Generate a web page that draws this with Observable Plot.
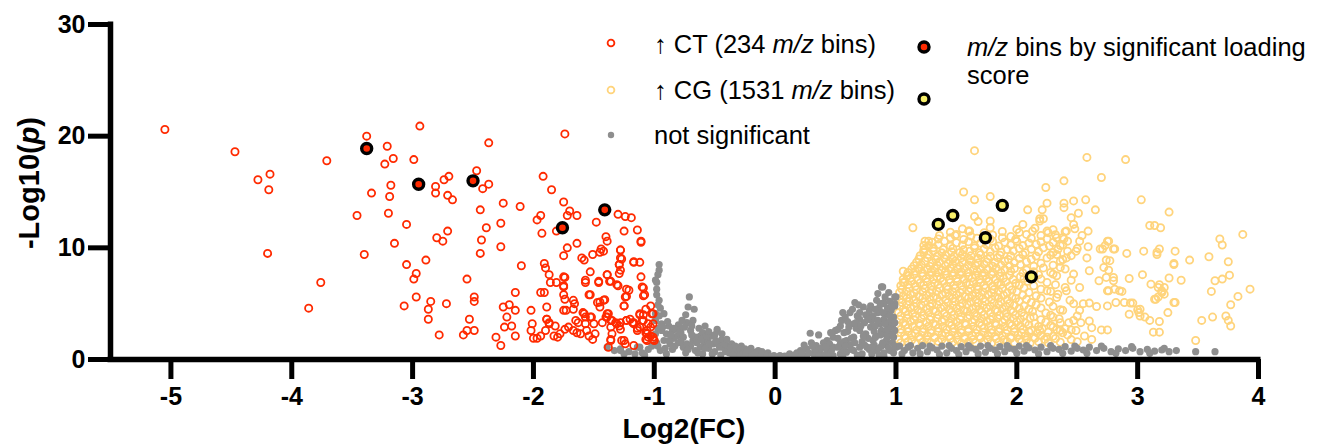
<!DOCTYPE html>
<html>
<head>
<meta charset="utf-8">
<script src="https://cdn.jsdelivr.net/npm/d3@7"></script>
<script src="https://cdn.jsdelivr.net/npm/@observablehq/plot@0.6"></script>
<style>
  html, body { margin: 0; padding: 0; background: #fff; }
  #wrap { position: relative; width: 1318px; height: 444px; font-family: "Liberation Sans", Arial, sans-serif; }
  #legend { position: absolute; left: 0; top: 0; width: 1318px; height: 160px; pointer-events: none; font-size: 25.5px; color: #000; line-height: 28px; }
  #legend .item { position: absolute; white-space: nowrap; }
  #legend svg { position: absolute; overflow: visible; }
</style>
</head>
<body>
<div id="wrap">
  <div id="chart"></div>
  <div id="legend"></div>
</div>
<script>
// ---------------- DATA ----------------
const xTicks = [-5, -4, -3, -2, -1, 0, 1, 2, 3, 4];
const yTicks = [0, 10, 20, 30];
const xDomain = [-5.5, 4];
const yDomain = [0, 30];

const legendLabels = {
  ct: ["↑ CT (234 ", "m/z", " bins)"],
  cg: ["↑ CG (1531 ", "m/z", " bins)"],
  ns: "not significant",
  hl: ["m/z", " bins by significant loading", "score"]
};

// ↑ CT (log2FC, -log10 p)
const ctPoints = [
[-5.05,20.6],[-4.47,18.6],[-4.28,16.1],[-4.18,16.6],[-4.19,15.2],[-4.2,9.5],[-3.76,6.9],[-3.86,4.6],[-3.71,17.8],
[-3.38,20.0],[-3.21,19.1],[-3.23,17.5],[-3.16,18.0],[-2.99,17.9],[-2.94,20.9],[-3.18,15.6],[-3.34,14.9],[-3.19,14.6],
[-3.46,12.9],[-3.2,13.1],[-3.05,12.1],[-3.4,9.4],[-3.15,10.4],[-3.05,8.5],[-2.97,7.7],[-2.99,7.2],[-2.97,5.6],[-3.07,4.8],
[-2.37,19.4],[-1.74,20.2],[-2.81,15.5],[-2.81,14.9],[-2.74,16.1],[-2.7,16.4],[-2.71,14.7],[-2.67,14.3],[-2.47,16.9],
[-2.42,15.3],[-2.37,15.7],[-2.44,13.4],[-2.39,11.8],[-2.27,12.2],[-2.25,14.0],[-2.11,13.7],[-2.43,10.7],[-2.44,9.5],
[-2.27,10.1],[-2.8,10.9],[-2.75,10.6],[-2.71,11.5],[-2.89,8.9],[-2.85,5.2],[-2.87,4.5],[-2.87,3.6],[-2.72,5.0],[-2.78,2.2],
[-2.55,7.2],[-2.49,5.6],[-2.49,5.2],[-2.53,3.6],[-2.58,2.2],[-2.55,2.6],[-2.49,2.6],[-2.1,8.4],[-2.15,6.0],[-1.94,6.0],
[-1.91,6.0],[-1.91,8.6],[-1.9,8.2],[-1.87,7.6],[-1.86,6.9],[-1.81,6.9],[-1.74,7.35],[-1.75,6.6],[-1.93,11.3],[-1.94,12.9],
[-1.97,12.5],[-1.92,16.4],[-1.85,15.2],[-1.75,14.1],[-1.7,13.3],[-1.72,12.9],[-1.64,12.9],[-1.81,11.5],[-1.72,10.0],
[-1.64,10.4],[-1.75,9.3],[-1.6,9.1],[-1.58,8.9],[-1.51,9.4],[-1.44,9.9],[-1.45,9.6],[-1.4,11.0],[-1.39,10.6],[-1.48,12.3],
[-1.54,5.8],[-1.45,5.15],[-1.41,5.35],[-1.3,13.0],[-1.24,12.8],[-1.19,12.7],[-1.25,11.5],[-1.14,11.6],[-1.11,10.6],
[-1.17,8.7],[-1.12,8.7],[-1.11,7.4],[-1.09,6.4],[-1.08,5.8],[-1.07,4.5],[-1.12,4.0],
[-1.53,7.85],[-1.57,7.1],[-1.46,7.0],[-1.39,7.6],[-1.37,7.0],[-1.31,6.7],[-1.29,7.7],[-1.28,8.0],[-1.29,8.5],[-1.28,9.1],
[-1.28,9.8],[-1.75,7.4],[-1.75,5.8],[-1.74,5.4],[-1.75,4.4],[-1.89,3.6],[-1.87,3.2],[-1.67,5.3],[-1.67,4.5],[-1.59,4.2],
[-1.57,3.8],[-1.52,3.8],[-1.65,3.5],[-1.45,4.7],[-1.38,4.1],[-1.36,3.5],[-1.28,3.3],[-1.23,3.5],[-1.17,3.2],[-1.12,2.9],
[-1.05,3.2],[-1.06,2.3],[-1.01,1.8],
[-1.75,6.5],[-1.57,6.9],[-1.46,6.9],[-1.36,7.0],[-1.3,6.6],[-1.23,6.3],[-1.23,5.65],[-1.09,5.7],[-1.53,5.8],[-1.47,5.1],
[-1.25,4.8],[-1.66,5.0],[-1.73,4.4],[-1.89,4.7],[-2.02,4.4],[-2.25,4.7],[-2.2,4.9],[-2.15,4.4],[-2.22,3.8],[-2.24,2.9],
[-2.18,3.0],[-2.15,2.1],[-2.31,2.0],[-2.27,1.25],[-2.01,3.2],[-2.02,2.6],[-2.0,1.9],[-1.97,1.9],[-1.94,2.1],[-1.9,2.6],
[-1.89,3.6],[-1.87,3.3],[-1.82,3.0],[-1.8,2.0],[-1.83,2.1],[-1.78,2.3],[-1.74,2.7],[-1.71,2.9],[-1.67,2.6],[-1.63,3.3],
[-1.64,2.4],[-1.61,2.3],[-1.58,4.1],[-1.57,3.2],[-1.56,2.6],[-1.54,2.1],[-1.51,1.8],[-1.49,2.3],[-1.5,3.2],[-1.53,3.8],
[-1.43,3.3],[-1.4,3.8],[-1.39,4.1],[-1.36,2.9],[-1.35,2.3],[-1.36,1.7],[-1.32,3.3],[-1.29,3.0],[-1.27,1.7],[-1.24,1.4],
[-1.23,3.5],[-1.2,3.6],[-1.17,3.3],[-1.14,2.6],[-1.12,4.1],[-1.09,3.5],[-1.07,2.4],[-1.05,2.0],[-1.03,2.9],[-1.02,4.1],
[-1.01,3.2],[-1.0,1.7],[-1.06,1.7],
[-1.28,9.8],[-1.11,10.5],[-1.42,9.7],[-1.29,8.5],[-1.27,9.0],[-1.17,8.75],[-1.39,7.6],[-1.1,6.5],[-1.21,6.2],[-1.24,5.6],
[-1.42,5.3],[-1.25,4.8],[-1.03,4.8],[-1.01,4.1],[-1.09,4.0],[-1.1,3.5],[-1.39,3.8],[-1.35,3.5],[-1.31,3.2],[-1.18,3.3],
[-1.14,2.8],[-1.28,2.7],[-1.06,2.6],[-1.03,2.1],[-1.01,2.0],[-1.07,1.8],[-1.17,1.25],[-1.25,1.7],[-1.36,1.8],[-1.38,1.1]
];

// highlighted CT bins (significant loading score)
const ctHighlight = [[-3.38,18.9],[-2.95,15.7],[-2.5,16.0],[-1.76,11.8],[-1.41,13.4]];

// ↑ CG
const cgPoints = [
// dense cloud
[1.04,1.5],[1.1,1.6],[1.16,1.45],[1.22,1.55],[1.29,1.5],[1.35,1.62],[1.41,1.48],[1.47,1.56],[1.54,1.45],[1.6,1.6],[1.66,1.5],[1.73,1.58],[1.79,1.46],[1.85,1.55],[1.92,1.62],[1.98,1.5],[2.04,1.57],[2.11,1.47],[2.18,1.6],[2.26,1.5],[2.36,1.55],[2.5,1.6],
[1.02,1.8],[1.08,1.9],[1.13,1.75],[1.2,1.85],[1.26,1.78],[1.32,1.92],[1.38,1.8],[1.45,1.88],[1.51,1.74],[1.57,1.86],[1.64,1.8],[1.7,1.92],[1.76,1.78],[1.83,1.86],[1.89,1.75],[1.95,1.9],[2.02,1.82],[2.08,1.76],[2.15,1.9],[2.23,1.8],[2.32,1.88],[2.45,1.78],
[1.07,2.1],[1.13,2.2],[1.19,2.05],[1.26,2.15],[1.32,2.0],[1.38,2.2],[1.44,2.1],[1.51,2.18],[1.57,2.02],[1.63,2.15],[1.69,2.08],[1.76,2.2],[1.82,2.05],[1.88,2.14],[1.95,2.02],[2.01,2.2],[2.07,2.1],[2.14,2.0],[2.2,2.15],[2.3,2.08],[2.42,2.2],[2.56,2.1],
[1.04,2.4],[1.1,2.5],[1.16,2.35],[1.22,2.46],[1.29,2.38],[1.35,2.5],[1.41,2.36],[1.47,2.46],[1.54,2.4],[1.6,2.52],[1.66,2.36],[1.72,2.45],[1.79,2.38],[1.85,2.5],[1.91,2.36],[1.98,2.46],[2.04,2.4],[2.1,2.5],[2.17,2.38],[2.26,2.45],[2.38,2.4],
[1.04,2.7],[1.1,2.8],[1.17,2.65],[1.23,2.75],[1.29,2.62],[1.35,2.8],[1.42,2.7],[1.48,2.78],[1.54,2.64],[1.6,2.74],[1.67,2.68],[1.73,2.8],[1.79,2.66],[1.86,2.75],[1.92,2.63],[1.98,2.78],[2.05,2.7],[2.12,2.62],[2.21,2.75],[2.33,2.68],[2.62,2.85],
[1.02,3.0],[1.08,3.1],[1.14,2.95],[1.2,3.05],[1.27,2.98],[1.33,3.1],[1.39,2.96],[1.46,3.06],[1.52,3.0],[1.58,3.12],[1.64,2.96],[1.71,3.05],[1.77,2.98],[1.83,3.1],[1.9,2.96],[1.96,3.06],[2.03,3.0],[2.1,3.1],[2.18,2.96],[2.28,3.05],
[1.06,3.3],[1.12,3.4],[1.19,3.25],[1.25,3.35],[1.31,3.22],[1.38,3.4],[1.44,3.3],[1.5,3.38],[1.57,3.24],[1.63,3.34],[1.69,3.28],[1.75,3.4],[1.82,3.26],[1.88,3.35],[1.94,3.22],[2.0,3.38],[2.07,3.3],[2.15,3.22],[2.24,3.36],[2.43,3.3],[2.6,3.45],
[1.03,3.6],[1.09,3.7],[1.15,3.55],[1.21,3.66],[1.28,3.58],[1.34,3.7],[1.4,3.56],[1.46,3.66],[1.53,3.6],[1.59,3.72],[1.65,3.56],[1.71,3.65],[1.78,3.58],[1.84,3.7],[1.9,3.56],[1.97,3.66],[2.03,3.6],[2.11,3.7],[2.2,3.56],[2.35,3.65],
[1.04,3.9],[1.1,4.0],[1.16,3.85],[1.23,3.95],[1.29,3.82],[1.35,4.0],[1.42,3.9],[1.48,3.98],[1.54,3.84],[1.61,3.94],[1.67,3.88],[1.73,4.0],[1.8,3.86],[1.86,3.95],[1.92,3.82],[1.99,3.98],[2.06,3.9],[2.14,3.82],[2.28,3.96],[2.5,3.9],
[1.02,4.2],[1.08,4.3],[1.14,4.15],[1.21,4.26],[1.27,4.18],[1.33,4.3],[1.4,4.16],[1.46,4.26],[1.52,4.2],[1.59,4.32],[1.65,4.16],[1.71,4.25],[1.78,4.18],[1.84,4.3],[1.91,4.16],[1.97,4.26],[2.04,4.2],[2.13,4.3],[2.24,4.16],
[1.06,4.5],[1.12,4.6],[1.18,4.45],[1.25,4.55],[1.31,4.42],[1.37,4.6],[1.44,4.5],[1.5,4.58],[1.56,4.44],[1.63,4.54],[1.69,4.48],[1.75,4.6],[1.82,4.46],[1.88,4.55],[1.95,4.42],[2.02,4.58],[2.1,4.5],[2.2,4.62],[2.36,4.45],
[1.03,4.8],[1.09,4.9],[1.15,4.75],[1.21,4.86],[1.28,4.78],[1.34,4.9],[1.4,4.76],[1.47,4.86],[1.53,4.8],[1.59,4.92],[1.66,4.76],[1.72,4.85],[1.78,4.78],[1.85,4.9],[1.91,4.76],[1.98,4.86],[2.06,4.8],[2.16,4.9],[2.3,4.76],
[1.05,5.1],[1.11,5.2],[1.17,5.05],[1.24,5.15],[1.3,5.02],[1.36,5.2],[1.43,5.1],[1.49,5.18],[1.55,5.04],[1.62,5.14],[1.68,5.08],[1.74,5.2],[1.81,5.06],[1.87,5.15],[1.94,5.02],[2.02,5.2],[2.12,5.1],[2.27,5.15],[2.44,5.3],
[1.03,5.4],[1.09,5.5],[1.15,5.35],[1.22,5.46],[1.28,5.38],[1.34,5.5],[1.41,5.36],[1.47,5.46],[1.53,5.4],[1.6,5.52],[1.66,5.36],[1.72,5.45],[1.79,5.38],[1.85,5.5],[1.92,5.36],[1.99,5.46],[2.08,5.4],[2.2,5.5],
[1.06,5.7],[1.12,5.8],[1.19,5.65],[1.25,5.75],[1.31,5.62],[1.38,5.8],[1.44,5.7],[1.5,5.78],[1.57,5.64],[1.63,5.74],[1.69,5.68],[1.76,5.8],[1.82,5.66],[1.89,5.75],[1.96,5.62],[2.05,5.78],[2.16,5.7],[2.34,5.85],
[1.03,6.0],[1.09,6.1],[1.15,5.95],[1.22,6.06],[1.28,5.98],[1.34,6.1],[1.41,5.96],[1.47,6.06],[1.53,6.0],[1.6,6.12],[1.66,5.96],[1.72,6.05],[1.79,5.98],[1.85,6.1],[1.92,5.96],[2.0,6.06],[2.1,6.0],[2.28,6.1],
[1.05,6.3],[1.11,6.4],[1.17,6.25],[1.24,6.35],[1.3,6.22],[1.36,6.4],[1.43,6.3],[1.49,6.38],[1.55,6.24],[1.62,6.34],[1.68,6.28],[1.74,6.4],[1.81,6.26],[1.88,6.35],[1.96,6.22],[2.06,6.4],[2.2,6.3],[2.4,6.45],
[1.04,6.6],[1.1,6.7],[1.16,6.55],[1.23,6.66],[1.29,6.58],[1.35,6.7],[1.42,6.56],[1.48,6.66],[1.54,6.6],[1.61,6.72],[1.67,6.56],[1.73,6.65],[1.8,6.58],[1.87,6.7],[1.94,6.56],[2.02,6.66],[2.14,6.6],[2.32,6.7],
[1.07,6.9],[1.13,7.0],[1.2,6.85],[1.26,6.95],[1.32,6.82],[1.39,7.0],[1.45,6.9],[1.51,6.98],[1.58,6.84],[1.64,6.94],[1.7,6.88],[1.77,7.0],[1.84,6.86],[1.91,6.95],[1.99,6.82],[2.09,7.0],[2.25,6.9],[2.45,7.1],
[1.06,7.2],[1.12,7.3],[1.18,7.15],[1.25,7.26],[1.31,7.18],[1.37,7.3],[1.44,7.16],[1.5,7.26],[1.56,7.2],[1.63,7.32],[1.69,7.16],[1.75,7.25],[1.82,7.18],[1.89,7.3],[1.97,7.16],[2.06,7.26],[2.2,7.2],
[1.09,7.5],[1.15,7.6],[1.22,7.45],[1.28,7.55],[1.34,7.42],[1.41,7.6],[1.47,7.5],[1.53,7.58],[1.6,7.44],[1.66,7.54],[1.72,7.48],[1.79,7.6],[1.86,7.46],[1.94,7.55],[2.03,7.42],[2.18,7.6],[2.33,7.5],
[1.1,7.8],[1.16,7.9],[1.22,7.75],[1.29,7.86],[1.35,7.78],[1.41,7.9],[1.48,7.76],[1.54,7.86],[1.6,7.8],[1.67,7.92],[1.73,7.76],[1.8,7.85],[1.87,7.78],[1.95,7.9],[2.05,7.76],[2.14,7.86],[2.28,7.8],
[1.13,8.1],[1.19,8.2],[1.26,8.05],[1.32,8.15],[1.38,8.02],[1.45,8.2],[1.51,8.1],[1.57,8.18],[1.64,8.04],[1.7,8.14],[1.76,8.08],[1.83,8.2],[1.9,8.06],[1.98,8.15],[2.08,8.02],[2.22,8.2],[2.4,8.1],
[1.15,8.4],[1.21,8.5],[1.28,8.35],[1.34,8.46],[1.41,8.38],[1.47,8.5],[1.53,8.36],[1.6,8.46],[1.66,8.4],[1.73,8.52],[1.8,8.36],[1.87,8.45],[1.94,8.38],[2.03,8.5],[2.14,8.36],[2.3,8.45],
[1.17,8.7],[1.24,8.8],[1.3,8.65],[1.36,8.75],[1.43,8.62],[1.49,8.8],[1.55,8.7],[1.62,8.78],[1.68,8.64],[1.75,8.74],[1.82,8.68],[1.9,8.8],[1.98,8.66],[2.08,8.75],[2.2,8.62],[2.36,8.8],
[1.19,9.0],[1.26,9.1],[1.33,8.95],[1.4,9.06],[1.47,8.98],[1.54,9.1],[1.61,8.96],[1.68,9.06],[1.76,9.0],[1.84,9.12],[1.93,8.96],[2.02,9.05],[2.12,8.98],[2.25,9.1],[2.38,8.96],
[1.2,9.3],[1.27,9.4],[1.34,9.25],[1.41,9.35],[1.48,9.22],[1.55,9.4],[1.62,9.3],[1.7,9.38],[1.78,9.24],[1.86,9.34],[1.95,9.28],[2.05,9.4],[2.16,9.26],[2.28,9.35],[2.45,9.3],
[1.23,9.6],[1.31,9.7],[1.38,9.55],[1.46,9.66],[1.53,9.58],[1.61,9.7],[1.69,9.56],[1.78,9.66],[1.87,9.6],[1.97,9.72],[2.07,9.56],[2.18,9.65],[2.3,9.58],[2.42,9.7],
[1.24,9.9],[1.31,10.0],[1.39,9.85],[1.47,9.95],[1.56,9.82],[1.65,10.0],[1.73,9.9],[1.82,9.98],[1.92,9.84],[2.02,9.94],[2.12,9.88],[2.22,10.0],[2.34,9.86],[2.5,9.95],
[1.27,10.2],[1.35,10.3],[1.45,10.15],[1.55,10.26],[1.65,10.18],[1.75,10.3],[1.85,10.16],[1.95,10.26],[2.05,10.2],[2.16,10.32],[2.27,10.16],[2.38,10.25],
[1.3,10.5],[1.4,10.6],[1.5,10.45],[1.6,10.55],[1.7,10.42],[1.8,10.6],[1.9,10.5],[2.0,10.58],[2.1,10.44],[2.2,10.54],[2.3,10.48],[2.42,10.6],
[1.35,10.8],[1.45,10.9],[1.56,10.75],[1.67,10.86],[1.78,10.78],[1.88,10.9],[1.99,10.76],[2.12,10.86],[2.25,10.8],[2.38,10.92],
[1.36,11.1],[1.5,11.2],[1.62,11.05],[1.8,11.15],[1.95,11.02],[2.08,11.2],[2.2,11.1],[2.32,11.18],
[1.45,11.4],[1.6,11.5],[1.73,11.35],[1.88,11.46],[2.02,11.38],[2.13,11.5],[2.26,11.36],[2.4,11.45],
[1.55,11.7],[1.78,11.8],[2.0,11.65],[2.15,11.75],[2.3,11.62],
// upper scattered
[1.65,18.7],[2.58,18.1],[2.9,17.9],[2.7,16.3],[2.39,16.0],[2.24,15.4],[1.56,15.0],[1.78,14.6],[1.65,14.3],[2.25,14.0],
[2.39,14.0],[2.39,13.6],[2.47,14.2],[2.57,14.3],[2.65,13.4],[2.09,13.4],[2.21,13.4],[2.19,12.6],[2.51,13.1],[2.45,12.7],
[3.03,14.3],[3.26,13.2],[1.14,11.8],[1.65,12.8],[1.68,12.35],[1.78,12.4],[1.23,10.2],[1.24,10.6],[1.23,9.8],[1.06,7.9],
[1.1,7.5],[1.19,8.15],[1.06,6.9],[1.27,10.6],[1.49,11.1],[1.61,11.5],[2.05,12.1],[2.22,12.6],
// right side scattered
[3.1,12.0],[3.14,12.0],[3.19,11.8],[3.68,10.8],[3.7,10.25],[3.87,11.2],[3.75,8.75],[3.76,7.55],[3.7,7.2],[3.64,7.05],
[3.61,6.1],[3.77,4.9],[3.83,5.65],[3.93,6.3],[3.53,3.5],[3.62,3.8],[3.73,3.9],[3.75,3.5],[3.77,3.0],[3.48,1.7],[3.36,7.1],
[3.26,7.3],[3.3,8.6],[3.31,9.7],[3.43,8.9],[3.59,9.2],[3.18,9.9],[3.16,9.4],[3.05,9.7],[2.91,9.5],[3.04,7.6],[3.11,6.75],
[3.17,6.45],[3.2,6.15],[3.15,5.4],[3.22,5.85],[3.3,5.1],[3.25,4.2],[3.18,3.4],[3.13,2.45],[3.18,2.45],[3.0,4.45],[2.93,4.05],
[3.02,3.9],[3.1,3.5],[2.94,5.05],[2.89,5.1],[2.82,5.1],[2.75,4.8],[2.7,2.65],[2.75,2.65],[2.62,1.8],[2.66,4.75],[2.6,5.05],
[2.55,5.0],[2.52,4.4],[2.53,3.3],[2.49,2.6],[2.45,2.65],[2.4,2.75],[2.36,3.3],[2.3,2.9],[2.25,2.0],[2.19,2.6],[2.93,7.25],
[2.85,6.15],[2.8,7.05],[2.74,7.35],[2.75,6.15],[2.68,7.05],[2.6,7.95],[2.58,9.1],[2.73,10.2],[2.69,9.9],[2.75,10.6],[2.8,9.9],
[2.77,8.85],[2.72,8.25],[2.59,10.1],[2.54,11.1],[2.59,11.5],[2.48,11.7],[2.39,10.8],[2.36,10.2],[2.33,9.4],[3.3,8.5],[3.18,6.7],
[3.22,6.45],[3.2,6.0],[3.17,5.6],[3.14,5.4],[3.31,5.1],[3.06,3.8],[3.02,4.5],[3.01,4.2],[2.96,5.05],[2.87,6.1],[2.81,6.3],
[2.76,6.15],[2.8,7.35],[2.76,8.0],[2.74,8.9],[2.81,9.9],[2.76,10.6],[2.71,9.9],[3.16,9.6],
[2.19,12.4],[2.25,11.5],[2.33,10.9],[2.41,11.5],[2.47,12.1],[2.52,10.6],[2.49,9.7],[2.41,9.1],[2.36,8.25],[2.3,7.65],
[2.47,7.65],[2.52,6.45],[2.41,6.15],[2.33,5.55],[2.25,6.15],[2.47,5.0],[2.38,4.4],[2.3,3.8],[2.47,3.5],[2.36,2.6]
];

// highlighted CG bins (significant loading score)
const cgHighlight = [[1.35,12.1],[1.47,12.9],[1.88,13.8],[1.74,10.9],[2.12,7.4]];

// not significant
const nsPoints = [
[-0.96,8.5],[-0.98,6.9],[-0.98,5.8],[-0.97,4.9],[-0.99,4.1],[-0.92,4.1],[-0.94,3.2],[-0.96,8.0],[-0.97,7.6],[-0.99,7.1],
[-0.98,6.3],[-0.96,5.3],[-0.99,3.5],[-0.97,2.8],[-0.99,2.3],[-0.71,5.6],[-0.72,4.7],[-0.67,4.5],[-0.68,3.5],[-0.73,3.3],
[-0.48,2.7],[-0.48,2.5],[-0.9,2.3],[-0.81,2.1],[-0.76,2.0],[-0.68,1.7],[-0.59,1.5],[-0.51,1.4],[-0.43,1.1],[-0.34,0.95],
[-0.26,0.8],[-0.18,0.65],[-0.1,0.5],[-0.01,0.35],[0.04,0.35],[-0.85,2.6],[-0.79,2.6],[-0.62,2.1],[-0.56,1.7],[-0.47,1.4],
[-0.4,1.2],[-0.32,0.8],[-0.25,0.95],[-0.62,1.1],[-0.76,1.1],[-0.87,1.4],[-0.92,1.7],[-0.95,0.8],[-0.9,0.5],[-1.28,0.8],
[-1.12,1.1],[-1.39,1.1],[-1.28,0.95],[-1.14,1.1],[-1.21,0.7],[-1.05,0.9],[-1.1,0.6],
[-0.85,0.9],[-0.8,1.5],[-0.74,0.6],[-0.7,1.2],[-0.66,0.8],[-0.6,0.5],[-0.55,1.0],[-0.5,0.7],[-0.45,0.4],[-0.38,0.6],
[-0.3,0.4],[-0.22,0.3],[-0.15,0.2],[-0.08,0.15],[-0.04,0.1],[0.0,0.05],[-0.88,3.0],[-0.84,1.9],[-0.8,3.1],[-0.78,2.4],
[-0.7,2.6],[-0.66,2.0],[-0.6,2.4],[-0.53,2.1],[-0.44,1.8],[-0.36,1.4],[-0.28,1.2],[-0.2,1.0],[-0.14,0.8],[-0.06,0.6],
[-0.97,1.2],[-0.94,2.6],[-0.91,1.0],[-0.88,1.7],[-0.86,2.2],[-0.83,1.2],[-0.82,2.7],[-0.78,1.6],[-0.75,2.9],[-0.73,1.4],
[-0.72,0.9],[-0.69,2.2],[-0.65,1.5],[-0.64,0.6],[-0.61,1.8],[-0.58,1.0],[-0.57,2.1],[-0.54,1.4],[-0.52,0.5],[-0.49,1.7],
[-0.46,1.1],[-0.42,1.4],[-0.41,0.7],[-0.37,1.0],[-0.35,0.4],[-0.33,1.2],[-0.29,0.9],[-0.27,0.5],[-0.24,0.6],[-0.21,0.8],
[-0.19,0.4],[-0.16,0.55],[-0.12,0.3],[-0.11,0.7],[-0.07,0.35],[-0.03,0.25],[-0.96,3.9],[-0.95,4.6],[-0.93,2.9],[-0.89,3.4],
[-0.84,2.8],[-0.77,3.5],[-0.74,4.0],[-0.69,3.0],[-0.63,2.8],[-0.58,3.0],[-0.55,2.5],[-0.5,2.2],[-0.44,2.3],[-0.4,1.8],
[-0.98,1.5],[-1.02,1.2],[-1.08,0.4],[-1.16,0.5],[-1.25,0.5],[-1.33,0.8],
[0.29,2.35],[0.36,2.2],[0.21,0.8],[0.26,0.95],[0.34,1.25],[0.43,1.7],[0.48,2.0],[0.54,3.0],[0.56,4.2],[0.62,4.2],
[0.66,5.1],[0.73,4.7],[0.76,3.9],[0.84,5.3],[0.88,6.5],[0.85,5.9],[0.9,5.1],[0.92,4.1],[0.98,3.8],[0.99,4.8],[1.0,5.6],
[0.95,2.9],[0.87,3.2],[0.79,2.9],[0.7,2.6],[0.65,2.0],[0.59,1.7],[0.54,1.4],[0.48,1.1],[0.43,0.8],[0.37,0.65],[0.32,0.5],
[0.26,0.35],[0.21,0.35],[0.15,0.27],[0.1,0.2],[0.81,1.7],[0.92,1.7],[0.98,2.0],[0.9,2.3],[1.0,1.1],[0.95,0.8],[0.84,0.8],
[0.76,1.1],[0.7,1.1],[0.65,0.8],[0.59,0.65],[0.54,0.5],[0.48,0.35],[0.89,6.5],[0.99,5.6],[0.9,5.0],[0.99,5.0],[0.94,6.0],
[0.96,4.4],[0.6,2.5],[0.65,3.2],[0.7,3.6],[0.75,2.3],[0.8,3.5],[0.85,4.2],[0.9,3.6],[0.95,3.4],[0.97,3.0],[0.88,2.6],
[0.82,1.3],[0.72,1.6],[0.92,1.3],[0.99,2.6],[0.86,4.6],[0.78,4.4],[0.68,3.9],[0.63,1.9],[0.57,2.4],[0.52,1.9],[0.45,1.4],
[0.4,1.5],[0.38,1.0],[0.3,1.5],[0.24,1.3],[0.18,0.6],[0.05,0.15],[0.12,0.5],[0.7,4.2],[0.74,3.3],[0.82,2.5],[0.86,1.0],
[0.94,2.4],[0.97,1.5],[0.9,0.6],[0.8,0.5],[0.72,0.5],[0.62,1.3],[0.56,0.9],[0.46,0.6],[0.4,0.4],[0.33,0.9],[0.28,0.6],
[0.6,3.4],[0.67,2.8],[0.77,1.9],[0.83,3.0],[0.93,2.8],
[0.5,2.6],[0.55,3.5],[0.58,3.8],[0.61,2.9],[0.64,4.5],[0.67,3.3],[0.69,4.9],[0.71,3.0],[0.73,2.1],[0.75,4.0],[0.77,3.6],
[0.79,4.8],[0.81,3.9],[0.83,4.5],[0.83,2.0],[0.85,3.5],[0.87,5.0],[0.87,2.2],[0.89,4.2],[0.89,1.5],[0.91,3.2],[0.91,5.6],
[0.93,4.6],[0.93,2.0],[0.95,3.9],[0.95,5.2],[0.97,4.7],[0.97,2.2],[0.99,3.3],[0.99,1.2],[0.86,0.4],[0.78,0.9],[0.68,0.4],
[0.63,0.9],[0.57,1.6],[0.52,1.1],[0.47,0.9],[0.42,1.1],[0.36,0.35],[0.31,1.2],[0.22,0.55],[0.16,0.4],[0.08,0.3],[0.02,0.2],
[0.46,2.4],[0.52,2.7],[0.58,1.2],[0.66,1.5],[0.74,1.3],[0.8,1.1],[0.88,1.2],[0.94,1.0],[0.98,0.6],[0.9,0.3],[0.7,0.25],
[0.56,0.25],[0.44,0.3],
[1.03,1.2],[1.07,0.8],[1.1,1.1],[1.14,0.6],[1.18,1.0],[1.22,1.25],[1.26,0.7],[1.3,1.05],[1.34,0.85],[1.38,1.2],[1.42,0.6],
[1.46,1.0],[1.5,0.8],[1.54,1.15],[1.58,0.7],[1.62,1.05],[1.66,0.9],[1.7,1.2],[1.74,0.65],[1.78,1.0],[1.82,0.85],[1.86,1.15],
[1.9,0.7],[1.94,1.0],[1.98,0.9],[2.02,1.2],[2.06,0.75],[2.1,1.05],[2.15,0.85],[2.2,1.1],[2.25,0.7],[2.3,1.0],[2.35,0.9],
[2.4,1.15],[2.45,0.75],[2.5,1.0],[2.55,0.85],[2.6,1.1],[2.66,0.8],[2.72,1.0],[2.78,0.7],[2.84,0.95],[2.9,0.8],[2.96,1.0],
[3.02,0.7],[3.08,0.9],[3.14,0.75],[3.2,0.85],[3.26,0.7],[3.32,0.8],[3.48,0.7],[3.64,0.7],
[1.05,0.5],[1.12,1.25],[1.2,0.5],[1.28,1.2],[1.36,0.45],[1.44,1.25],[1.52,0.45],[1.6,1.25],[1.68,0.5],[1.76,1.25],[1.84,0.5],
[1.92,1.25],[2.0,0.55],[2.08,1.25],[2.18,0.5],[2.28,1.25],[2.38,0.55],[2.48,1.2],[2.58,0.55],[2.7,1.2],[2.82,0.55],[2.95,1.15],
[3.1,0.55],[3.22,1.0]
];

// ---------------- STYLE ----------------
const C = {
  ct: "#ff2a00",
  cg: "#ffd47c",
  ns: "#8e8e8e",
  cgFill: "#f8f06a",
  font: "'Liberation Sans', Arial, sans-serif"
};

const X = d => d[0], Y = d => d[1];

const chart = Plot.plot({
  width: 1318,
  height: 444,
  marginLeft: 110,
  marginRight: 60,
  marginTop: 24,
  marginBottom: 85,
  x: {domain: xDomain},
  y: {domain: yDomain},
  style: {fontFamily: C.font, color: "black", background: "white", overflow: "visible"},
  marks: [
    Plot.dot(cgPoints, {x: X, y: Y, r: 3.6, stroke: C.cg, strokeWidth: 1.8, fill: "none"}),
    Plot.dot(nsPoints, {x: X, y: Y, r: 3.6, fill: C.ns, stroke: "none"}),
    Plot.dot(ctPoints, {x: X, y: Y, r: 3.6, stroke: C.ct, strokeWidth: 1.8, fill: "none"}),
    Plot.dot(ctHighlight, {x: X, y: Y, r: 5, fill: C.ct, stroke: "black", strokeWidth: 3.4}),
    Plot.dot(cgHighlight, {x: X, y: Y, r: 5, fill: C.cgFill, stroke: "black", strokeWidth: 3.4}),
    Plot.ruleY([yDomain[0]], {stroke: "black", strokeWidth: 5.5, insetLeft: -2.5, insetRight: -2.5}),
    Plot.ruleX([xDomain[0]], {stroke: "black", strokeWidth: 5.5, insetTop: -2.5, insetBottom: -2.5}),
    Plot.axisX({ticks: xTicks, tickSize: 20, tickPadding: 8, strokeWidth: 5, fontSize: 25, fontWeight: "bold",
      fill: "black", tickFormat: d => String(d), label: null}),
    Plot.axisY({ticks: yTicks, tickSize: 22, tickPadding: 3, strokeWidth: 5, fontSize: 25, fontWeight: "bold",
      fill: "black", tickFormat: d => String(d), label: null})
  ]
});
document.getElementById("chart").appendChild(chart);

const svg = d3.select(chart);
// enforce the heavy axis styling
svg.selectAll("g[aria-label='rule']").attr("stroke-width", 5.5);
svg.selectAll("g[aria-label='x-axis tick'], g[aria-label='y-axis tick']").attr("stroke-width", 5);
svg.selectAll("g[aria-label='x-axis tick label'], g[aria-label='y-axis tick label']")
  .attr("font-size", 25).attr("font-weight", "bold").attr("fill", "black");

// axis titles
const yl = svg.append("text")
  .attr("transform", "translate(31,183) rotate(-90)")
  .attr("text-anchor", "middle").attr("dominant-baseline", "middle")
  .attr("font-size", 29).attr("font-weight", "bold").attr("fill", "black")
  .attr("font-family", C.font);
yl.append("tspan").text("-Log10(");
yl.append("tspan").attr("font-style", "italic").text("p");
yl.append("tspan").text(")");
svg.append("text")
  .attr("x", 684).attr("y", 438)
  .attr("text-anchor", "middle")
  .attr("font-size", 28).attr("font-weight", "bold").attr("fill", "black")
  .attr("font-family", C.font)
  .text("Log2(FC)");

// legend (overlaid inside the plot area)
const legend = d3.select("#legend");
function swatch(cx, cy, r, fill, stroke, sw) {
  const s = legend.append("svg").attr("width", 1).attr("height", 1)
    .style("left", "0px").style("top", "0px");
  s.append("circle").attr("cx", cx).attr("cy", cy).attr("r", r)
    .attr("fill", fill).attr("stroke", stroke).attr("stroke-width", sw);
}
function item(left, top, parts, italicIdx) {
  const d = legend.append("div").attr("class", "item").style("left", left + "px").style("top", top + "px");
  parts.forEach((p, i) => {
    d.append("span").style("font-style", i === italicIdx ? "italic" : "normal").text(p);
  });
  return d;
}
swatch(611, 43, 3.4, "none", C.ct, 1.8);
swatch(611, 90, 3.4, "none", C.cg, 1.8);
swatch(611, 135, 3.2, C.ns, "none", 0);
swatch(924, 47, 5, C.ct, "black", 3.4);
swatch(924, 99, 5, C.cgFill, "black", 3.4);
item(654, 30, legendLabels.ct, 1);
item(654, 76, legendLabels.cg, 1);
item(654, 121, [legendLabels.ns], -1);
item(967, 33, [legendLabels.hl[0], legendLabels.hl[1]], 0);
item(967, 61, [legendLabels.hl[2]], -1);
</script>
</body>
</html>
